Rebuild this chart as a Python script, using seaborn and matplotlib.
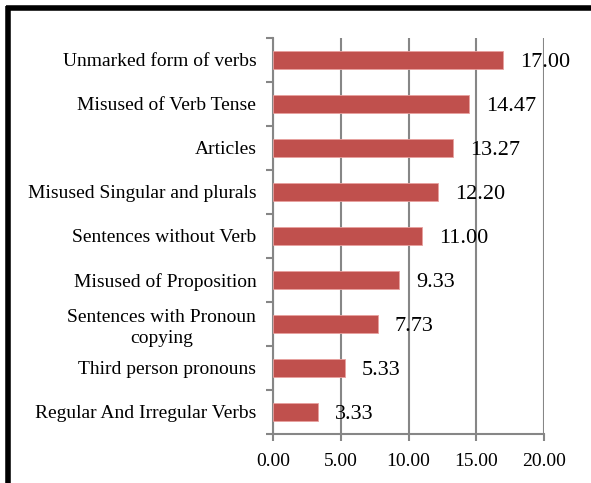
import matplotlib
matplotlib.use("Agg")
import matplotlib.pyplot as plt
import seaborn as sns
import numpy as np
import pandas as pd
from matplotlib.lines import Line2D
from matplotlib.ticker import FormatStrFormatter, FixedLocator

categories = [
    "Unmarked form of verbs",
    "Misused of Verb Tense",
    "Articles",
    "Misused Singular and plurals",
    "Sentences without Verb",
    "Misused of Proposition",
    "Sentences with Pronoun\ncopying",
    "Third person pronouns",
    "Regular And Irregular Verbs",
]
values = [17.00, 14.47, 13.27, 12.20, 11.00, 9.33, 7.73, 5.33, 3.33]
xticks = [0, 5, 10, 15, 20]

sns.set_theme(style="white")
plt.rcParams["font.family"] = ["Liberation Serif", "DejaVu Serif"]

df = pd.DataFrame({"category": categories, "value": values})

fig = plt.figure(figsize=(5.91, 4.83), dpi=100)
ax = fig.add_axes([273/591, 1-434/483, (544-273)/591, (434-38)/483])

sns.barplot(data=df, x="value", y="category", order=categories, orient="h",
            color="#C0504D", saturation=1, width=0.4, ax=ax,
            edgecolor="#E8A09E", linewidth=0.6, zorder=3)

ax.set_xlim(0, 20)
ax.set_ylim(len(categories) - 0.5, -0.5)
ax.xaxis.set_major_locator(FixedLocator(xticks))
ax.xaxis.set_major_formatter(FormatStrFormatter("%.2f"))
ax.set_xlabel("")
ax.set_ylabel("")

gray = "#868686"
ax.grid(axis="x", color=gray, linewidth=1.5, zorder=0)
ax.set_axisbelow(True)
for s in ["top", "right"]:
    ax.spines[s].set_visible(False)
for s in ["left", "bottom"]:
    ax.spines[s].set_color(gray)
    ax.spines[s].set_linewidth(1.5)

ax.tick_params(axis="x", which="major", direction="out", length=5, width=1.5,
               color=gray, labelsize=14, pad=8.5, labelcolor="black", bottom=True)
ax.set_yticks(np.arange(len(categories)), categories,
              multialignment="center", linespacing=1.3)
ax.tick_params(axis="y", which="major", length=0, labelsize=14, pad=12,
               labelcolor="black")
ax.yaxis.set_minor_locator(FixedLocator(np.arange(-0.5, len(categories), 1.0)))
ax.tick_params(axis="y", which="minor", direction="out", length=5, width=1.5,
               color=gray, left=True)

for i, v in enumerate(values):
    ax.text(v + 1.25, i + 0.05, f"{v:.2f}", va="center", ha="left",
            fontsize=16, color="black", zorder=5)

# border frame
fig.add_artist(Line2D([6/591, 1.0], [1-8/483, 1-8/483], color="black",
                      linewidth=4, solid_capstyle="butt",
                      transform=fig.transFigure))
fig.add_artist(Line2D([8/591, 8/591], [0.0, 1-6/483], color="black",
                      linewidth=4, solid_capstyle="butt",
                      transform=fig.transFigure))

fig.savefig("out.png", dpi=100)
